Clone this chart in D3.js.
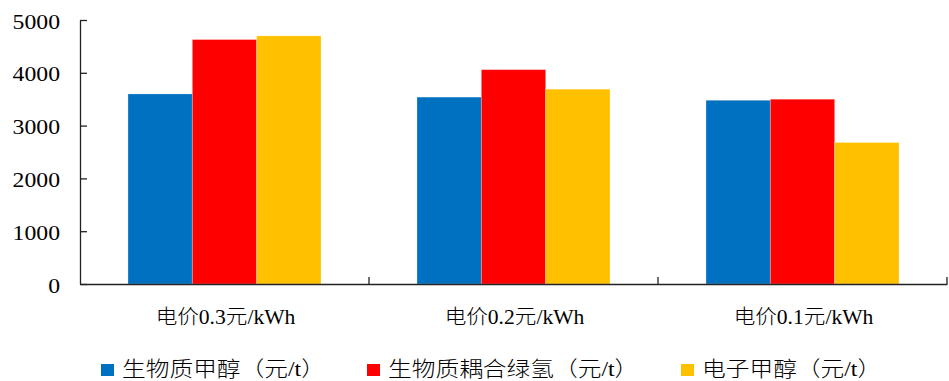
<!DOCTYPE html>
<html>
<head>
<meta charset="utf-8">
<script src="https://cdn.jsdelivr.net/npm/d3@7"></script>
<style>
  html, body { margin: 0; padding: 0; background: #fff; }
  svg { display: block; }
</style>
</head>
<body>
<svg id="chart" width="949" height="381"></svg>
<script>
// 电价情景
const categories = ["电价0.3元/kWh", "电价0.2元/kWh", "电价0.1元/kWh"];
// 三种路线的甲醇成本（元/t）
const seriesNames = ["生物质甲醇（元/t）", "生物质耦合绿氢（元/t）", "电子甲醇（元/t）"];
const biomassMethanol = [3600, 3540, 3480];
const biomassGreenH2 = [4630, 4060, 3500];
const eMethanol = [4700, 3690, 2680];
const yTickValues = [0, 1000, 2000, 3000, 4000, 5000];
const colors = ["#0070C0", "#FF0000", "#FFC000"];

const seriesValues = [biomassMethanol, biomassGreenH2, eMethanol];
const LATIN_CJK = "'Liberation Serif', 'Times New Roman', 'Noto Sans CJK SC', serif";
const TEXT_STRETCH = 1.13;
const LABEL_STRETCH = 1.08;

const svg = d3.select("#chart");
const plotLeft = 80, plotRight = 947, plotTop = 20, plotBottom = 284;

const x = d3.scaleBand().domain(categories).range([plotLeft, plotRight]).paddingInner(0).paddingOuter(0);
const bw = x.bandwidth();
const x1 = d3.scaleBand().domain(seriesNames).range([bw * 0.166, bw * 0.834]).padding(0);
const y = d3.scaleLinear().domain([0, 5000]).range([plotBottom, plotTop]);

// bars
const groups = svg.append("g").selectAll("g")
  .data(categories)
  .join("g")
  .attr("transform", d => `translate(${x(d)},0)`);

groups.selectAll("rect")
  .data((c, ci) => seriesNames.map((s, si) => ({ s, si, v: seriesValues[si][ci] })))
  .join("rect")
  .attr("x", d => x1(d.s))
  .attr("width", x1.bandwidth())
  .attr("y", d => y(d.v))
  .attr("height", d => y(0) - y(d.v))
  .attr("fill", d => colors[d.si])
  .attr("stroke", "#ffffff")
  .attr("stroke-opacity", 0.35)
  .attr("stroke-width", 0.8);

// y axis: ticks pointing into the plot, labels to the left
const yAxis = svg.append("g")
  .attr("transform", `translate(${plotLeft},0)`)
  .call(d3.axisLeft(y).tickValues(yTickValues).tickSize(-7).tickPadding(20).tickSizeOuter(0).tickFormat(d3.format("d")));
yAxis.select(".domain").attr("stroke", "#222").attr("stroke-width", 1.3);
yAxis.selectAll(".tick line").attr("stroke", "#222").attr("stroke-width", 1.3);
yAxis.selectAll(".tick text")
  .attr("font-family", LATIN_CJK)
  .attr("font-size", 21)
  .attr("fill", "#000")
  .attr("dy", null)
  .attr("y", 8)
  .attr("x", -20 / TEXT_STRETCH)
  .attr("transform", `scale(${TEXT_STRETCH},1)`);

// x axis line
const xAxis = svg.append("g")
  .attr("transform", `translate(0,${plotBottom})`)
  .call(d3.axisBottom(x).tickSize(0).tickSizeOuter(0).tickFormat(""));
xAxis.select(".domain").attr("stroke", "#222").attr("stroke-width", 1.3);

// category separators, ticks pointing up
svg.append("g").selectAll("line")
  .data(categories)
  .join("line")
  .attr("x1", d => x(d) + bw)
  .attr("x2", d => x(d) + bw)
  .attr("y1", plotBottom)
  .attr("y2", plotBottom - 7)
  .attr("stroke", "#222")
  .attr("stroke-width", 1.3);

// category labels
svg.append("g").selectAll("text")
  .data(categories)
  .join("text")
  .attr("transform", d => `translate(${x(d) + bw / 2 + 1},${plotBottom + 40}) scale(${LABEL_STRETCH},1)`)
  .attr("text-anchor", "middle")
  .attr("font-family", LATIN_CJK)
  .attr("font-size", 20)
  .attr("font-weight", 300)
  .attr("fill", "#000")
  .text(d => d);

// legend
const legendX = [101, 367, 681];
const legend = svg.append("g").selectAll("g")
  .data(seriesNames)
  .join("g")
  .attr("transform", (d, i) => `translate(${legendX[i]},0)`);
legend.append("rect")
  .attr("x", 0).attr("y", 364)
  .attr("width", 13).attr("height", 12)
  .attr("fill", (d, i) => colors[i]);
legend.append("text")
  .attr("transform", `translate(21,376) scale(${TEXT_STRETCH},1)`)
  .attr("font-family", LATIN_CJK)
  .attr("font-size", 21)
  .attr("font-weight", 300)
  .attr("fill", "#000")
  .text(d => d);
</script>
</body>
</html>
